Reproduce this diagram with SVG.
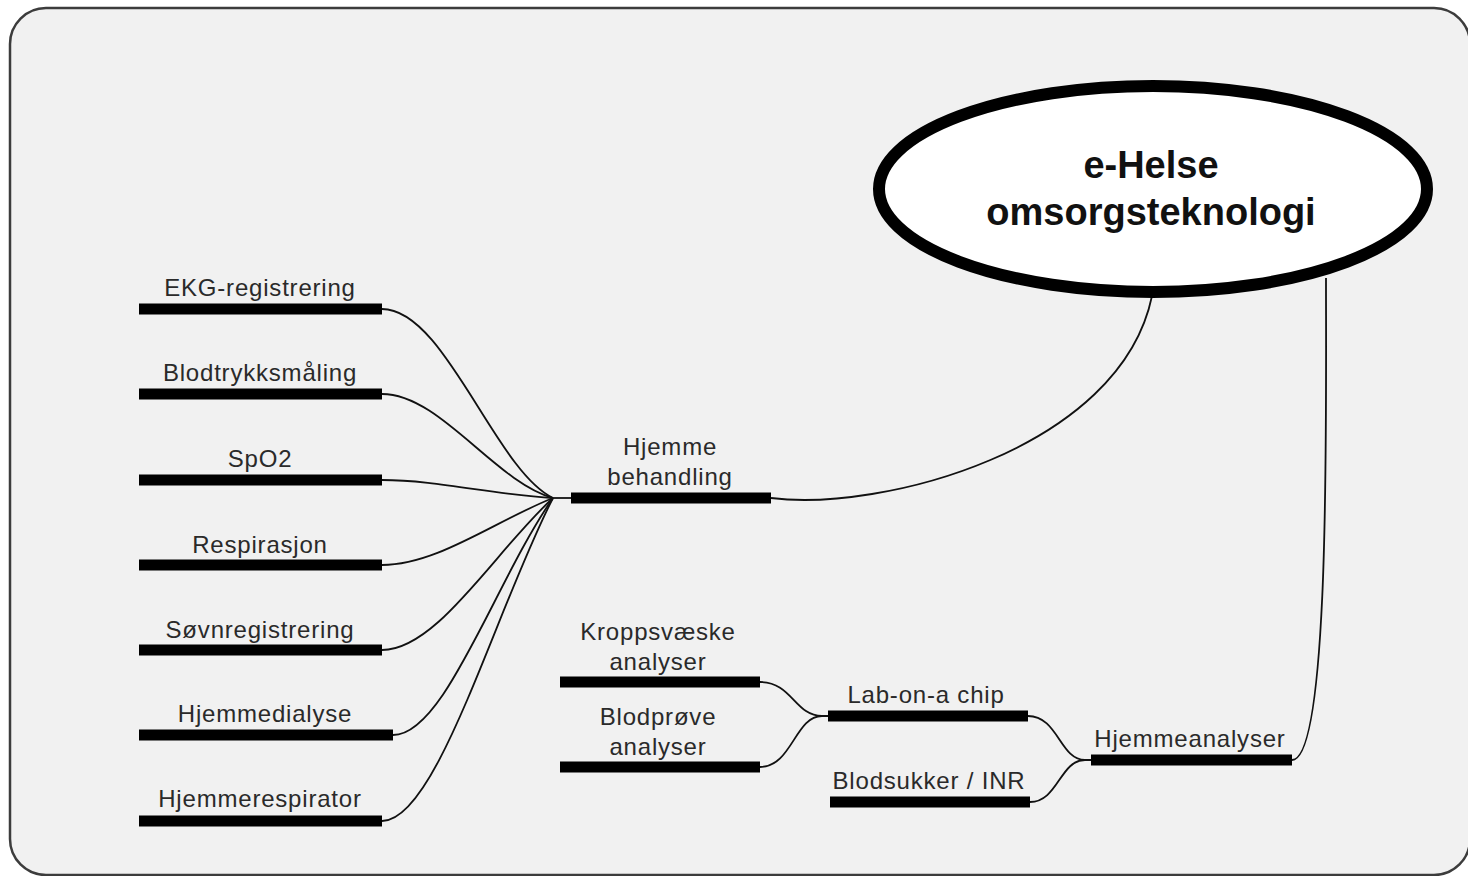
<svg xmlns="http://www.w3.org/2000/svg" width="1468" height="876" viewBox="0 0 1468 876">
<style>
.bg{fill:#f1f1f1;stroke:#3c3c3c;stroke-width:2.5}
.bar{fill:#000}
.lbl{font-family:"Liberation Sans",Arial,sans-serif;font-size:24px;letter-spacing:0.8px;fill:#2a2a2a;text-anchor:middle}
.title{font-family:"Liberation Sans",Arial,sans-serif;font-size:38px;font-weight:bold;fill:#111;text-anchor:middle}
.con{fill:none;stroke:#111;stroke-width:1.8}
</style>
<rect class="bg" x="10" y="8" width="1460" height="867" rx="36"/>
<g id="connectors">
<path class="con" d="M382,309 C445,309 495,470 553,498"/>
<path class="con" d="M382,394 C440,394 495,482 553,498"/>
<path class="con" d="M382,480 C437,480 495,495 553,498"/>
<path class="con" d="M382,565 C437,565 495,521 553,498"/>
<path class="con" d="M382,650 C437,650 495,551 553,498"/>
<path class="con" d="M393,735 C445,735 495,581 553,498"/>
<path class="con" d="M382,821 C437,821 495,611 553,498"/>
<path class="con" d="M553,498 L571,498"/>
<path class="con" d="M771,498 C880,512 1120,450 1152,296"/>
<path class="con" d="M1292,760 C1330,760 1326,420 1326,278"/>
<path class="con" d="M760,682 C792,682 795,716 822,716 L828,716"/>
<path class="con" d="M760,767 C792,767 795,716 822,716"/>
<path class="con" d="M1028,716 C1058,716 1060,760 1085,760 L1091,760"/>
<path class="con" d="M1030,802 C1058,802 1060,760 1085,760"/>
</g>
<g id="root">
<ellipse cx="1153" cy="189" rx="274" ry="103" fill="#fff" stroke="#000" stroke-width="12"/>
<text class="title" x="1151" y="178">e-Helse</text>
<text class="title" x="1151" y="225">omsorgsteknologi</text>
</g>
<g id="n-ekg"><rect class="bar" x="139" y="303.5" width="243" height="11"/><text class="lbl" x="260" y="296">EKG-registrering</text></g>
<g id="n-blodtrykk"><rect class="bar" x="139" y="388.5" width="243" height="11"/><text class="lbl" x="260" y="381">Blodtrykksmåling</text></g>
<g id="n-spo2"><rect class="bar" x="139" y="474.5" width="243" height="11"/><text class="lbl" x="260" y="467">SpO2</text></g>
<g id="n-resp"><rect class="bar" x="139" y="559.5" width="243" height="11"/><text class="lbl" x="260" y="553">Respirasjon</text></g>
<g id="n-sovn"><rect class="bar" x="139" y="644.5" width="243" height="11"/><text class="lbl" x="260" y="638">Søvnregistrering</text></g>
<g id="n-dialyse"><rect class="bar" x="139" y="729.5" width="254" height="11"/><text class="lbl" x="265" y="722">Hjemmedialyse</text></g>
<g id="n-respirator"><rect class="bar" x="139" y="815.5" width="243" height="11"/><text class="lbl" x="260" y="807">Hjemmerespirator</text></g>
<g id="n-behandling"><rect class="bar" x="571" y="492.5" width="200" height="11"/><text class="lbl" x="670" y="455">Hjemme</text><text class="lbl" x="670" y="485">behandling</text></g>
<g id="n-kropp"><rect class="bar" x="560" y="676.5" width="200" height="11"/><text class="lbl" x="658" y="640">Kroppsvæske</text><text class="lbl" x="658" y="670">analyser</text></g>
<g id="n-blodprove"><rect class="bar" x="560" y="761.5" width="200" height="11"/><text class="lbl" x="658" y="725">Blodprøve</text><text class="lbl" x="658" y="755">analyser</text></g>
<g id="n-lab"><rect class="bar" x="828" y="710.5" width="200" height="11"/><text class="lbl" x="926" y="703">Lab-on-a chip</text></g>
<g id="n-blodsukker"><rect class="bar" x="830" y="796.5" width="200" height="11"/><text class="lbl" x="929" y="789">Blodsukker / INR</text></g>
<g id="n-analyser"><rect class="bar" x="1091" y="754.5" width="201" height="11"/><text class="lbl" x="1190" y="747">Hjemmeanalyser</text></g>
</svg>
